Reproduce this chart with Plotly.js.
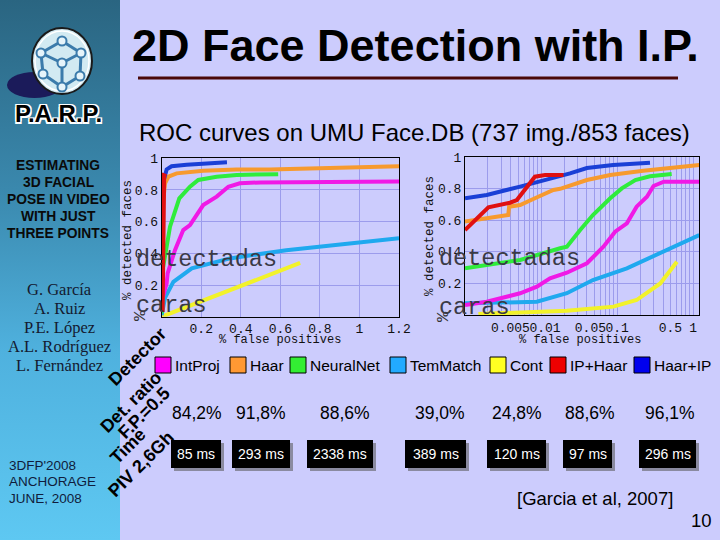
<!DOCTYPE html>
<html>
<head>
<meta charset="utf-8">
<script src="https://cdn.plot.ly/plotly-3.0.1.min.js"></script>
<style>
html,body{margin:0;padding:0;}
#wrap{width:720px;height:540px;position:relative;
background: linear-gradient(to bottom,#2a6581 0%,#3a88ad 35%,#4fb1de 65%,#5ec8f2 100%) no-repeat 0 0 / 120px 540px, #ccccfd;}
#chart{width:720px;height:540px;}
</style>
</head>
<body>
<div id="wrap"><div id="chart"></div></div>
<script>
// ---------- DATA ----------
const methods = ['IntProj','Haar','NeuralNet','TemMatch','Cont','IP+Haar','Haar+IP'];
const detRatio = [84.2, 91.8, 88.6, 39.0, 24.8, 88.6, 96.1];   // % detection at F.P.=0.5
const timesMs = [85, 293, 2338, 389, 120, 97, 296];

// left chart (linear false-positive axis)
const linIntProjX = [0.005, 0.025, 0.03, 0.067, 0.109, 0.143, 0.21, 0.278, 0.337, 0.395, 0.5, 1.2];
const linIntProjY = [0.12, 0.21, 0.274, 0.42, 0.547, 0.579, 0.705, 0.758, 0.82, 0.842, 0.848, 0.853];
const linHaarX = [0.003, 0.008, 0.017, 0.034, 0.076, 0.21, 0.379, 0.547, 1.2];
const linHaarY = [0.6, 0.737, 0.842, 0.884, 0.905, 0.922, 0.93, 0.93, 0.95];
const linNeuralX = [0, 0.005, 0.0135, 0.042, 0.089, 0.143, 0.185, 0.278, 0.379, 0.589];
const linNeuralY = [0.02, 0.3, 0.358, 0.568, 0.747, 0.821, 0.863, 0.884, 0.895, 0.90];
const linTemX = [0, 0.017, 0.059, 0.152, 0.345, 0.63, 1.2];
const linTemY = [0.01, 0.12, 0.22, 0.305, 0.368, 0.42, 0.495];
const linContX = [0, 0.35, 0.7];
const linContY = [0, 0.17, 0.34];
const linIPHaarX = [0.002, 0.004, 0.006, 0.01, 0.015];
const linIPHaarY = [0.03, 0.45, 0.75, 0.89, 0.905];
const linHaarIPX = [0.004, 0.008, 0.025, 0.05, 0.126, 0.21, 0.33];
const linHaarIPY = [0.72, 0.85, 0.93, 0.95, 0.96, 0.968, 0.975];

// right chart (log false-positive axis)
const logIntProjX = [0.001, 0.00193, 0.0053, 0.0088, 0.0131, 0.0218, 0.04, 0.066, 0.094, 0.134, 0.18, 0.246, 0.30, 0.41, 1.2];
const logIntProjY = [0.063, 0.084, 0.138, 0.18, 0.233, 0.268, 0.328, 0.433, 0.528, 0.581, 0.687, 0.75, 0.818, 0.845, 0.845];
const logHaarX = [0.001, 0.00193, 0.0037, 0.0038, 0.0053, 0.0083, 0.0145, 0.0178, 0.04, 0.081, 0.22, 1.2];
const logHaarY = [0.592, 0.613, 0.634, 0.687, 0.697, 0.74, 0.793, 0.80, 0.856, 0.888, 0.915, 0.951];
const logNeuralX = [0.001, 0.0053, 0.0178, 0.0218, 0.0326, 0.048, 0.081, 0.115, 0.173, 0.27, 0.52];
const logNeuralY = [0.296, 0.349, 0.423, 0.433, 0.539, 0.634, 0.74, 0.803, 0.856, 0.88, 0.894];
const logTemX = [0.001, 0.0088, 0.0218, 0.048, 0.134, 0.368, 1.2];
const logTemY = [0.074, 0.084, 0.138, 0.222, 0.296, 0.391, 0.507];
const logContX = [0.0015, 0.0053, 0.0218, 0.0893, 0.18, 0.368, 0.61];
const logContY = [0.006, 0.015, 0.027, 0.053, 0.095, 0.20, 0.338];
const logIPHaarX = [0.001, 0.00203, 0.0039, 0.0048, 0.0083, 0.0113, 0.0197];
const logIPHaarY = [0.539, 0.683, 0.712, 0.729, 0.877, 0.888, 0.888];
const logHaarIPX = [0.001, 0.00193, 0.0053, 0.0119, 0.024, 0.04, 0.0885, 0.27];
const logHaarIPY = [0.74, 0.761, 0.814, 0.856, 0.898, 0.932, 0.951, 0.966];

// tick labels
const linXTicks = [0.2, 0.4, 0.6, 0.8, 1, 1.2];
const linXTickText = ['0.2', '0.4', '0.6', '0.8', '1', '1.2'];
const yTicks = [0.2, 0.4, 0.6, 0.8, 1];
const yTickText = ['0.2', '0.4', '0.6', '0.8', '1'];
const logLabelVals = [0.005, 0.01, 0.05, 0.1, 0.5, 1];
const logLabelText = ['0.005', '0.01', '0.05', '0.1', '0.5', '1'];

// ---------- STYLE ----------
const colors = {
  'IntProj':'#f019e6', 'Haar':'#f79a2e', 'NeuralNet':'#2fec3c', 'TemMatch':'#1fa9ef',
  'Cont':'#f2f22a', 'IP+Haar':'#e01010', 'Haar+IP':'#1a3fd6'
};
const legendColors = {
  'IntProj':'#ff00ff', 'Haar':'#ff9933', 'NeuralNet':'#33ee33', 'TemMatch':'#22aaff',
  'Cont':'#ffff22', 'IP+Haar':'#ee0000', 'Haar+IP':'#0000ee'
};
// label padding (non-breaking spaces) so crowded log labels sit side by side as in the original
const NB = '\u00a0';
const logLabelPad = {'0.005':['', NB+NB], '0.01':[NB, ''], '0.05':['', NB], '0.1':['', '']};

const W = 720, H = 540;
const X = p => p / W, Y = p => 1 - p / H;
const MONO = 'Liberation Mono, Courier New, monospace';
const SANS = 'Liberation Sans, Arial, sans-serif';
const SERIF = 'Liberation Serif, Times New Roman, serif';

const drawOrder = ['Cont','TemMatch','IntProj','NeuralNet','Haar','Haar+IP','IP+Haar'];
const linData = {
  'IntProj':[linIntProjX, linIntProjY], 'Haar':[linHaarX, linHaarY], 'NeuralNet':[linNeuralX, linNeuralY],
  'TemMatch':[linTemX, linTemY], 'Cont':[linContX, linContY], 'IP+Haar':[linIPHaarX, linIPHaarY],
  'Haar+IP':[linHaarIPX, linHaarIPY]
};
const logData = {
  'IntProj':[logIntProjX, logIntProjY], 'Haar':[logHaarX, logHaarY], 'NeuralNet':[logNeuralX, logNeuralY],
  'TemMatch':[logTemX, logTemY], 'Cont':[logContX, logContY], 'IP+Haar':[logIPHaarX, logIPHaarY],
  'Haar+IP':[logHaarIPX, logHaarIPY]
};
const traces = [];
drawOrder.forEach(m => {
  traces.push({x: linData[m][0], y: linData[m][1], xaxis:'x', yaxis:'y', mode:'lines', name:m,
    line:{color:colors[m], width: m==='IP+Haar'?5:4}, showlegend:false, hoverinfo:'skip'});
});
drawOrder.forEach(m => {
  traces.push({x: logData[m][0], y: logData[m][1], xaxis:'x2', yaxis:'y2', mode:'lines', name:m,
    line:{color:colors[m], width:4}, showlegend:false, hoverinfo:'skip'});
});

// log-axis grid positions (2..10 x decades)
const logGrid = [];
[0.001, 0.01, 0.1].forEach(d => { for (let k = 2; k <= 10; k++) logGrid.push(+(k*d).toPrecision(3)); });
const logGridText = logGrid.map(v => {
  const i = logLabelVals.indexOf(v);
  if (i < 0) return '';
  const t = logLabelText[i], p = logLabelPad[t] || ['', ''];
  return p[0] + t + p[1];
});

const axCommon = {showline:true, mirror:true, linecolor:'#000', linewidth:1, gridcolor:'#9c9cec', gridwidth:1,
  zeroline:false, ticks:'', tickangle:0, tickfont:{family:MONO, size:13, color:'#111'}, fixedrange:true};

const shapes = [];
const ann = [];
function txt(x, y, text, size, opts) {
  ann.push(Object.assign({x:X(x), y:Y(y), xref:'paper', yref:'paper', text:text, showarrow:false,
    xanchor:'center', yanchor:'middle', font:{family:SANS, size:size, color:'#000'}}, opts||{}));
}

// ---- logo ----
shapes.push({type:'circle', xref:'paper', yref:'paper', x0:X(7), x1:X(62), y0:Y(72), y1:Y(98), fillcolor:'#1b1b5a', line:{width:0}});
shapes.push({type:'circle', xref:'paper', yref:'paper', x0:X(32), x1:X(92), y0:Y(28), y1:Y(94), fillcolor:'#d2eaf2', line:{color:'#1a1a1a', width:2}});
shapes.push({type:'circle', xref:'paper', yref:'paper', x0:X(35), x1:X(89), y0:Y(31), y1:Y(91), fillcolor:'rgba(0,0,0,0)', line:{color:'#ffffff', width:1.5}});
const nodes = [[62,41],[81,53],[80,76],[62,87],[43,74],[41,53],[62,63]];
const edges = [[0,1],[1,2],[2,3],[3,4],[4,5],[5,0],[6,1],[6,5],[6,3]];
edges.forEach(e => {
  shapes.push({type:'line', xref:'paper', yref:'paper', x0:X(nodes[e[0]][0]), y0:Y(nodes[e[0]][1]), x1:X(nodes[e[1]][0]), y1:Y(nodes[e[1]][1]), line:{color:'#3b7bab', width:3}});
});
nodes.forEach(n => {
  shapes.push({type:'circle', xref:'paper', yref:'paper', x0:X(n[0]-4.5), x1:X(n[0]+4.5), y0:Y(n[1]-4.5), y1:Y(n[1]+4.5), fillcolor:'#e6f4fa', line:{color:'#3b7bab', width:2}});
});
txt(58, 113, '<b>P.A.R.P.</b>', 24, {font:{family:SANS, size:24, color:'#000',
  shadow:'1.5px 1.5px 0 #fff, -1.5px -1.5px 0 #fff, 1.5px -1.5px 0 #fff, -1.5px 1.5px 0 #fff'}});

// ---- sidebar text ----
['ESTIMATING','3D FACIAL','POSE IN VIDEO','WITH JUST','THREE POINTS'].forEach((t,i) => {
  txt(58, 166 + i*16.8, '<b>'+t+'</b>', 13.8, {font:{family:SANS, size:13.8, color:'#0a0a0a'}});
});
['G. García','A. Ruiz','P.E. López','A.L. Rodríguez','L. Fernández'].forEach((t,i) => {
  txt(59, 289 + i*19, t, 16.5, {font:{family:SERIF, size:16.5, color:'#141a30'}});
});
['3DFP\'2008','ANCHORAGE','JUNE, 2008'].forEach((t,i) => {
  txt(7, 465 + i*16.5, t, 13.5, {xanchor:'left', font:{family:SANS, size:13.5, color:'#101c3c'}});
});

// ---- title ----
txt(416, 46, '<b>2D Face Detection with I.P.</b>', 45);
shapes.push({type:'line', xref:'paper', yref:'paper', x0:X(138), x1:X(678), y0:Y(78), y1:Y(78), line:{color:'#4a0808', width:3}});
txt(415, 133, 'ROC curves on UMU Face.DB (737 img./853 faces)', 24);

// ---- axis titles & overlays ----
[[128, 240], [430, 236]].forEach(p => {
  txt(p[0], p[1], '% detected faces', 12.5, {textangle:-90, font:{family:MONO, size:12.5, color:'#111'}});
});
[[140, 316], [443, 317]].forEach(p => {
  txt(p[0], p[1], '%', 17, {textangle:-90, font:{family:MONO, size:17, color:'#333'}});
});
[[280, 340], [580, 340]].forEach(p => {
  txt(p[0], p[1], '% false positives', 12, {font:{family:MONO, size:12, color:'#111'}});
});
[[134, 259], [437, 258]].forEach(p => {
  txt(p[0], p[1], 'detectadas', 23.5, {xanchor:'left', font:{family:MONO, size:23.5, color:'#3a3a46'}});
});
[[134, 305], [437, 307]].forEach(p => {
  txt(p[0], p[1], 'caras', 23.5, {xanchor:'left', font:{family:MONO, size:23.5, color:'#3a3a46'}});
});

// ---- diagonal row labels ----
txt(137, 357, '<b>Detector</b>', 18, {textangle:-45});
txt(131, 402, '<b>Det. ratio</b>', 18, {textangle:-45});
txt(144, 413, '<b>F.P.=0.5</b>', 18, {textangle:-45});
txt(128, 446, '<b>Time</b>', 18, {textangle:-45});
txt(141, 464, '<b>PIV 2,6Gh</b>', 18, {textangle:-45});

// ---- legend / table ----
const legSquareX = [155, 230, 290, 390, 490, 550, 634];
const pctX = [197, 261, 345, 440, 517, 590, 670];
const boxX0 = [171, 232, 307, 405, 487, 563, 639];
const boxX1 = [221, 290, 373, 466, 546, 612, 696];
methods.forEach((m,i) => {
  shapes.push({type:'rect', xref:'paper', yref:'paper', x0:X(legSquareX[i]), x1:X(legSquareX[i]+16), y0:Y(357), y1:Y(373),
    fillcolor:legendColors[m], line:{color:'#000', width:1}});
  txt(legSquareX[i]+18, 365.5, m, 15.5, {xanchor:'left', font:{family:SANS, size:15.5, color:'#000'}});
  txt(pctX[i], 413, detRatio[i].toFixed(1).replace('.', ',') + '%', 17.5);
  shapes.push({type:'rect', xref:'paper', yref:'paper', x0:X(boxX0[i]+3), x1:X(boxX1[i]+3), y0:Y(443), y1:Y(471),
    fillcolor:'#8a8aa0', line:{width:0}});
  shapes.push({type:'rect', xref:'paper', yref:'paper', x0:X(boxX0[i]), x1:X(boxX1[i]), y0:Y(440), y1:Y(468),
    fillcolor:'#000', line:{width:0}});
  txt((boxX0[i]+boxX1[i])/2, 454, timesMs[i] + ' ms', 14, {font:{family:SANS, size:14, color:'#fff'}});
});

txt(595, 498, '[Garcia et al, 2007]', 18.5);
txt(701, 520, '10', 18.5);

const layout = {
  width: W, height: H, margin:{l:0, r:0, t:0, b:0},
  paper_bgcolor:'rgba(0,0,0,0)', plot_bgcolor:'rgba(0,0,0,0)',
  showlegend:false,
  xaxis: Object.assign({}, axCommon, {domain:[X(161.7), X(399)], range:[0, 1.2], tickvals:linXTicks, ticktext:linXTickText, anchor:'y'}),
  yaxis: Object.assign({}, axCommon, {domain:[Y(316.7), Y(158.3)], range:[0, 1], tickvals:yTicks, ticktext:yTickText, anchor:'x'}),
  xaxis2: Object.assign({}, axCommon, {type:'log', domain:[X(465), X(699.3)], range:[-3, Math.log10(1.2)], tickvals:logGrid, ticktext:logGridText, anchor:'y2'}),
  yaxis2: Object.assign({}, axCommon, {domain:[Y(315), Y(157.3)], range:[0, 1], tickvals:yTicks, ticktext:yTickText, anchor:'x2'}),
  shapes: shapes,
  annotations: ann
};
Plotly.newPlot('chart', traces, layout, {staticPlot:true, displayModeBar:false});
</script>
</body>
</html>
